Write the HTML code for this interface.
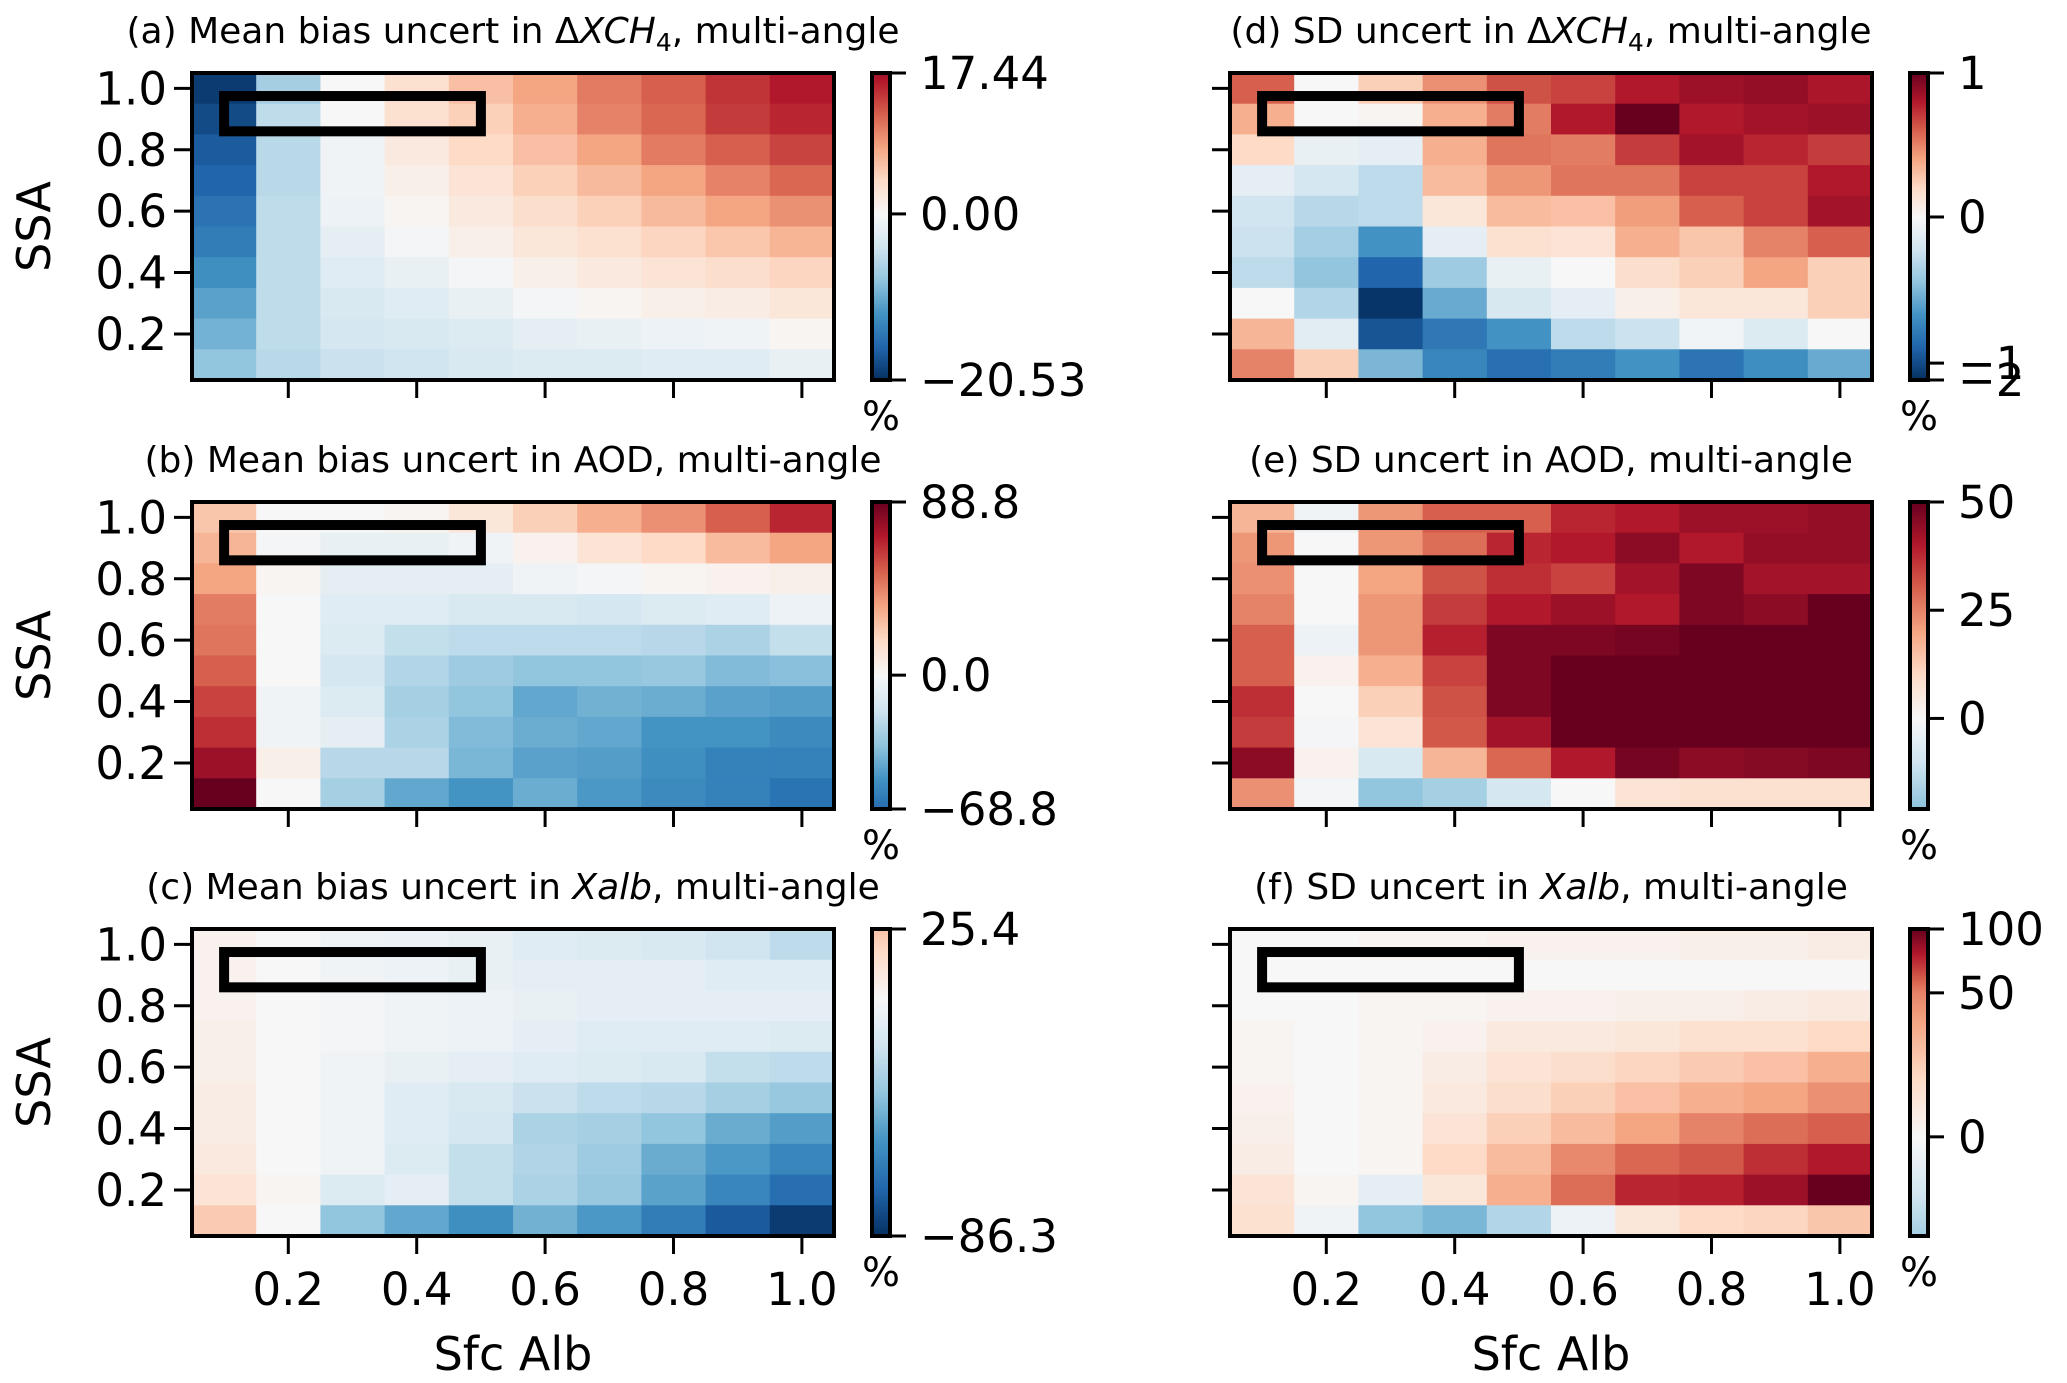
<!DOCTYPE html>
<html><head><meta charset="utf-8">
<style>
html,body{margin:0;padding:0;background:#fff;}
svg{display:block;font-family:"DejaVu Sans","Liberation Sans",sans-serif;}
</style></head>
<body>
<svg id="fig" width="2067" height="1383" viewBox="0 0 2067 1383" xmlns="http://www.w3.org/2000/svg"></svg>
<script>
// ---------- data (rows: SSA 1.0 -> 0.1 top to bottom; cols: Sfc Alb 0.1 -> 1.0) ----------
const albCats = [0.1,0.2,0.3,0.4,0.5,0.6,0.7,0.8,0.9,1.0];
const ssaCats = [1.0,0.9,0.8,0.7,0.6,0.5,0.4,0.3,0.2,0.1];
const axisTicks = [0.2,0.4,0.6,0.8,1.0];
const axisTickLabels = ["0.2","0.4","0.6","0.8","1.0"];

const valuesA = [
[-19.7,-7.0,0,3.3,6.2,8.2,10.7,12.3,14.8,16.4],
[-18.5,-5.3,0,3.3,4.9,7.4,10.3,11.9,14.4,15.6],
[-17.2,-5.7,-0.8,2.1,4.1,6.2,8.2,10.7,12.3,13.9],
[-16.4,-5.7,-0.8,1.2,2.9,4.9,6.6,8.2,10.3,11.9],
[-15.2,-5.3,-1.2,0.4,2.1,3.7,4.9,6.6,8.2,9.4],
[-14.4,-5.3,-2.1,-0.4,1.2,2.5,3.3,4.5,5.7,7.0],
[-12.7,-5.3,-2.5,-1.6,-0.4,1.2,2.1,2.9,3.7,4.5],
[-11.1,-5.3,-3.3,-2.5,-1.6,-0.4,0.4,1.2,1.6,2.5],
[-9.8,-5.3,-3.7,-3.3,-2.9,-2.1,-1.6,-1.2,-0.8,0.4],
[-8.2,-5.7,-4.5,-4.1,-3.3,-2.9,-2.9,-2.5,-2.5,-1.6]];
const valuesB = [
[24.9,0,0,1.8,10.7,21.3,32.0,40.8,53.3,67.5],
[30.2,-1.8,-7.1,-7.1,-3.6,3.6,12.4,17.8,28.4,35.5],
[35.5,1.8,-8.9,-8.9,-8.9,-3.6,-1.8,1.8,3.6,5.3],
[46.2,0,-10.7,-10.7,-14.2,-14.2,-16.0,-12.4,-10.7,-5.3],
[47.9,0,-12.4,-21.3,-23.1,-23.1,-23.1,-24.9,-28.4,-21.3],
[53.3,0,-16.0,-26.6,-32.0,-35.5,-35.5,-33.7,-39.1,-37.3],
[60.4,-3.6,-12.4,-30.2,-35.5,-46.2,-42.6,-44.4,-48.0,-49.7],
[65.7,-3.6,-8.9,-28.4,-39.1,-44.4,-46.2,-53.3,-53.3,-56.8],
[76.4,5.3,-24.9,-24.9,-41.0,-48.0,-49.7,-55.0,-60.4,-60.4],
[88.8,0,-30.2,-46.2,-53.3,-44.4,-51.5,-56.8,-60.4,-65.7]];
const valuesC = [
[3.5,0,-3.5,-5.2,-6.9,-10.4,-12.1,-13.8,-17.3,-22.4],
[3.5,0,-3.5,-5.2,-6.9,-8.6,-8.6,-8.6,-10.4,-10.4],
[3.5,0,-1.7,-3.5,-5.2,-6.9,-8.6,-8.6,-8.6,-8.6],
[5.2,0,-1.7,-3.5,-5.2,-8.6,-10.4,-10.4,-10.4,-12.1],
[5.2,0,-3.5,-6.9,-8.6,-10.4,-12.1,-13.8,-20.7,-22.4],
[6.9,0,-3.5,-10.4,-13.8,-19.0,-22.4,-24.2,-29.3,-32.8],
[6.9,0,-3.5,-10.4,-15.5,-27.6,-29.3,-34.5,-43.2,-48.3],
[8.6,0,-3.5,-12.1,-20.7,-25.9,-31.1,-43.2,-50.1,-56.9],
[12.1,1.7,-12.1,-8.6,-20.7,-27.6,-32.8,-46.6,-56.9,-65.6],
[22.4,0,-34.5,-44.9,-53.5,-41.4,-50.1,-60.4,-72.5,-82.8]];
const valuesD = [
[0.6,0,0.24,0.46,0.64,0.68,0.8,0.86,0.88,0.82],
[0.36,0,0.02,0.36,0.52,0.8,1.0,0.8,0.84,0.86],
[0.2,-0.09,-0.11,0.36,0.54,0.52,0.7,0.84,0.76,0.7],
[-0.11,-0.2,-0.29,0.32,0.44,0.54,0.54,0.68,0.68,0.8],
[-0.22,-0.31,-0.29,0.12,0.32,0.3,0.42,0.6,0.68,0.84],
[-0.24,-0.38,-0.67,-0.11,0.16,0.14,0.36,0.28,0.5,0.6],
[-0.29,-0.44,-0.89,-0.4,-0.09,0,0.18,0.24,0.4,0.24],
[0,-0.33,-1.8,-0.56,-0.18,-0.11,0.06,0.12,0.12,0.24],
[0.34,-0.13,-0.96,-0.8,-0.67,-0.29,-0.24,-0.04,-0.16,0],
[0.5,0.24,-0.51,-0.73,-0.84,-0.78,-0.67,-0.82,-0.69,-0.56]];
const valuesE = [
[17,-2,22,30,30,38,40,43,43,44],
[22,0,22,28,38,40,45,40,44,44],
[23,0,20,32,37,34,42,47,42,42],
[25,0,22,35,40,43,40,47,45,52],
[30,-3,22,39,47,47,48,55,58,60],
[30,2,18,34,47,52,58,60,62,63],
[37,0,12,32,47,55,62,64,66,68],
[35,-1,7,31,42,58,65,66,67,68],
[45,2,-8,17,29,40,48,45,46,47],
[23,-1,-20,-17,-9,0,7,8,8,8]];
const valuesF = [
[0,0,2,2,4,4,4,6,6,8],
[0,0,0,0,0,0,0,0,0,0],
[0,0,2,2,4,4,6,6,8,10],
[2,0,2,4,10,10,12,16,16,20],
[2,0,2,8,14,18,22,26,30,36],
[4,0,2,10,18,24,30,36,40,46],
[6,0,2,14,24,32,40,50,56,60],
[8,0,2,20,32,48,58,62,74,80],
[14,2,-10,12,36,56,76,78,86,100],
[16,-4,-40,-46,-30,-6,12,20,22,28]];

// colorbar tick values and labels
const cbTicksA = [17.44,0,-20.53]; const cbLabelsA = ["17.44","0.00","\u221220.53"];
const cbTicksB = [88.8,0,-68.8];   const cbLabelsB = ["88.8","0.0","\u221268.8"];
const cbTicksC = [25.4,-86.3];     const cbLabelsC = ["25.4","\u221286.3"];
const cbTicksD = [1,0,-1,-2];      const cbLabelsD = ["1","0","\u22121","\u22122"];
const cbTicksE = [50,25,0];        const cbLabelsE = ["50","25","0"];
const cbTicksF = [100,50,0];       const cbLabelsF = ["100","50","0"];

// ---------- colormap RdBu_r ----------
const stops = ["#053061","#2166ac","#4393c3","#92c5de","#d1e5f0","#f7f7f7","#fddbc7","#f4a582","#d6604d","#b2182b","#67001f"];
function hex(h){return [parseInt(h.substr(1,2),16),parseInt(h.substr(3,2),16),parseInt(h.substr(5,2),16)];}
const stopRGB = stops.map(hex);
function cmap(t){
  t=Math.max(0,Math.min(1,t));
  const f=t*10, i=Math.min(9,Math.floor(f)), r=f-i;
  const a=stopRGB[i], b=stopRGB[i+1];
  return "rgb("+a.map((v,k)=>Math.round(v+(b[k]-v)*r)).join(",")+")";
}
function interp(x,xs,ys){
  if(x<=xs[0]) return ys[0]+(x-xs[0])*(ys[1]-ys[0])/(xs[1]-xs[0]);
  for(let i=0;i<xs.length-1;i++){
    if(x<=xs[i+1]) return ys[i]+(x-xs[i])*(ys[i+1]-ys[i])/(xs[i+1]-xs[i]);
  }
  const n=xs.length-1;
  return ys[n]+(x-xs[n])*(ys[n]-ys[n-1])/(xs[n]-xs[n-1]);
}

const NS="http://www.w3.org/2000/svg";
const svg=document.getElementById("fig");
function el(tag,attrs,parent){const e=document.createElementNS(NS,tag);for(const k in attrs)e.setAttribute(k,attrs[k]);(parent||svg).appendChild(e);return e;}

const W=642,H=307;
const panels=[
 {id:"a",x:192,y:73,vals:valuesA,title:["(a) Mean bias uncert in \u0394","XCH","4",", multi-angle"],
  norm:v=>0.5+v/41.06, posV:[-20.53,0,17.44], posP:[1,0.459,0], ticks:cbTicksA, labels:cbLabelsA, ylab:true, xlab:false},
 {id:"b",x:192,y:502,vals:valuesB,title:["(b) Mean bias uncert in AOD, multi-angle"],
  norm:v=>0.5+v/177.6, posV:[-68.8,0,88.8], posP:[1,0.564,0], ticks:cbTicksB, labels:cbLabelsB, ylab:true, xlab:false},
 {id:"c",x:192,y:929,vals:valuesC,title:["(c) Mean bias uncert in ","Xalb",", multi-angle"],
  norm:v=>0.5+v/172.6, posV:[-86.3,25.4], posP:[1,0], ticks:cbTicksC, labels:cbLabelsC, ylab:true, xlab:true},
 {id:"d",x:1230,y:73,vals:valuesD,title:["(d) SD uncert in \u0394","XCH","4",", multi-angle"],
  norm:v=>interp(v,[-2,-1,0,1],[0,0.05,0.5,1]), posV:[-2,-1,0,1], posP:[1,0.945,0.469,0], ticks:cbTicksD, labels:cbLabelsD, ylab:false, xlab:false},
 {id:"e",x:1230,y:502,vals:valuesE,title:["(e) SD uncert in AOD, multi-angle"],
  norm:v=>0.5+v/100, posV:[-20.9,0,50], posP:[1,0.705,0], ticks:cbTicksE, labels:cbLabelsE, ylab:false, xlab:false},
 {id:"f",x:1230,y:929,vals:valuesF,title:["(f) SD uncert in ","Xalb",", multi-angle"],
  norm:v=>0.5+v/200, posV:[-34.4,0,50,100], posP:[1,0.677,0.208,0], ticks:cbTicksF, labels:cbLabelsF, ylab:false, xlab:true}
];

panels.forEach(p=>{
  const g=el("g",{});
  
  
  const xs=v=>p.x+(v-0.05)*W;
  const ys=v=>p.y+H-(v-0.05)*H;
  ssaCats.forEach((s,i)=>{
    albCats.forEach((a,j)=>{
      const x0=xs(a-0.05), x1=xs(a+0.05), y0=ys(s+0.05), y1=ys(s-0.05);
      const r=el("rect",{x:x0,y:y0,width:x1-x0+0.6,height:y1-y0+0.6,fill:cmap(p.norm(p.vals[i][j]))},g);
      
      
    });
  });
  const bx=el("rect",{x:xs(0.1),y:ys(0.975),width:xs(0.5)-xs(0.1),height:ys(0.86)-ys(0.975),fill:"none",stroke:"#000","stroke-width":10},g);
  
  
  const fr=el("rect",{x:p.x,y:p.y,width:W,height:H,fill:"none",stroke:"#000","stroke-width":4},g);
  
  
  axisTicks.forEach((t,k)=>{
    el("line",{x1:xs(t),x2:xs(t),y1:p.y+H,y2:p.y+H+18,stroke:"#000","stroke-width":3},g);
    el("line",{x1:p.x-18,x2:p.x,y1:ys(t),y2:ys(t),stroke:"#000","stroke-width":3},g);
    if(p.ylab){
      const tl=el("text",{x:p.x-25,y:ys(t)+16,"font-size":45,"text-anchor":"end"},g);
      tl.textContent=axisTickLabels[k];
      
      
    }
    if(p.xlab){
      const tl=el("text",{x:xs(t),y:p.y+H+69,"font-size":45,"text-anchor":"middle"},g);
      tl.textContent=axisTickLabels[k];
      
      
    }
  });
  if(p.ylab){
    const yl=el("text",{x:0,y:0,"font-size":46,"text-anchor":"middle",transform:"translate("+(p.x-142)+","+(p.y+H/2)+") rotate(-90)"},g);
    yl.textContent="SSA";
    
    
  }
  if(p.xlab){
    const xl=el("text",{x:p.x+W/2,y:p.y+H+134,"font-size":46,"text-anchor":"middle"},g);
    xl.textContent="Sfc Alb";
    
    
  }
  const tt=el("text",{x:p.x+W/2,y:p.y-30,"font-size":36,"text-anchor":"middle"},g);
  
  
  if(p.title.length===1){tt.textContent=p.title[0];}
  else if(p.title.length===3){
    el("tspan",{},tt).textContent=p.title[0];
    el("tspan",{"font-style":"italic"},tt).textContent=p.title[1];
    el("tspan",{},tt).textContent=p.title[2];
  } else {
    el("tspan",{},tt).textContent=p.title[0];
    el("tspan",{"font-style":"italic"},tt).textContent=p.title[1];
    el("tspan",{"font-size":25,dy:8},tt).textContent=p.title[2];
    el("tspan",{dy:-8},tt).textContent=p.title[3];
  }
  const cx=p.x+W+38, cw=18;
  const cb=el("g",{},g);
  
  
  const N=150;
  for(let k=0;k<N;k++){
    const pos=(k+0.5)/N;
    const v=interp(pos,[...p.posP].reverse(),[...p.posV].reverse());
    el("rect",{x:cx,y:p.y+k*H/N,width:cw,height:H/N+0.6,fill:cmap(p.norm(v))},cb);
  }
  el("rect",{x:cx,y:p.y,width:cw,height:H,fill:"none",stroke:"#000","stroke-width":4},cb);
  p.ticks.forEach((tv,k)=>{
    const pos=interp(tv,p.posV,p.posP);
    const ty=p.y+pos*H;
    el("line",{x1:cx+cw,x2:cx+cw+16,y1:ty,y2:ty,stroke:"#000","stroke-width":3},cb);
    const tl=el("text",{x:cx+cw+30,y:ty+16,"font-size":45},cb);
    tl.textContent=p.labels[k];
    
    
  });
  const pc=el("text",{x:cx+cw/2,y:p.y+H+50,"font-size":40,"text-anchor":"middle"},cb);
  pc.textContent="%";
  
  
});
</script>
</body></html>
